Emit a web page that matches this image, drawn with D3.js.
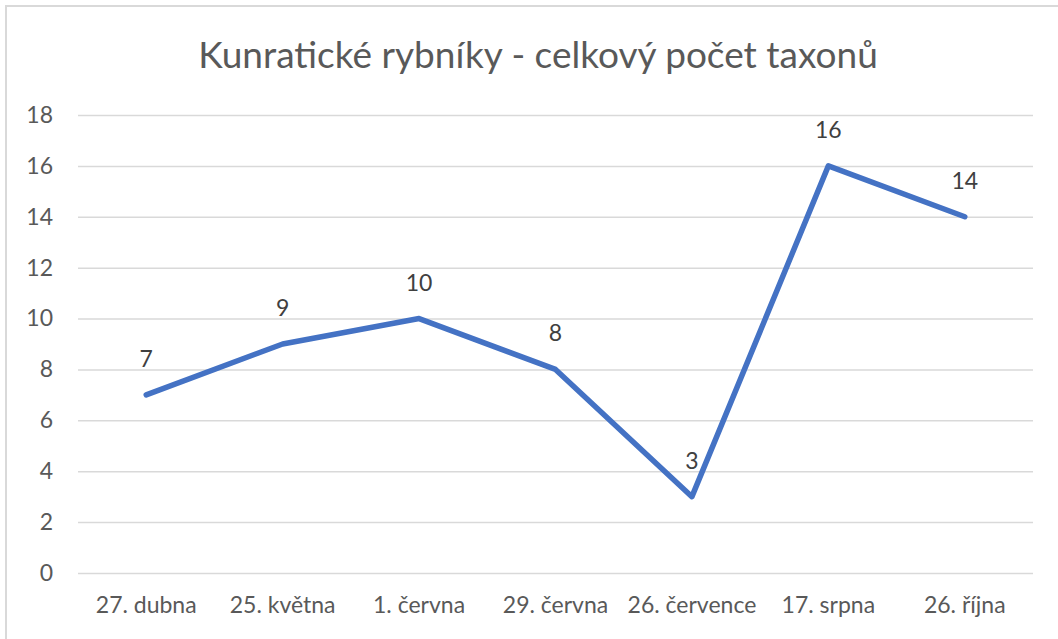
<!DOCTYPE html>
<html>
<head>
<meta charset="utf-8">
<script src="https://cdn.jsdelivr.net/npm/d3@7"></script>
<style>
  body { margin: 0; background: #fff; }
  text { font-family: Lato, "Open Sans", sans-serif; }
</style>
</head>
<body>
<div id="chart-container"></div>
<script>
// Data
var categories = ["27. dubna", "25. května", "1. června", "29. června", "26. července", "17. srpna", "26. října"];
var taxonCounts = [7, 9, 10, 8, 3, 16, 14];
var yTicks = [0, 2, 4, 6, 8, 10, 12, 14, 16, 18];
var chartTitle = "Kunratické rybníky - celkový počet taxonů";

var W = 1058, H = 639;
var margin = { top: 115, right: 25, bottom: 66, left: 78 },
    width = W - margin.left - margin.right,
    height = H - margin.top - margin.bottom;

var svg = d3.select("#chart-container")
    .append("svg")
    .attr("width", W)
    .attr("height", H);

// Outer chart border
svg.append("rect")
    .attr("x", 6).attr("y", 6)
    .attr("width", W + 10).attr("height", H + 10)
    .attr("fill", "#fff")
    .attr("stroke", "#d9d9d9")
    .attr("stroke-width", 2);

// Title
svg.append("text")
    .attr("x", 538)
    .attr("y", 68)
    .attr("text-anchor", "middle")
    .attr("font-size", 37)
    .attr("fill", "#595959")
    .text(chartTitle);

var g = svg.append("g")
    .attr("transform", "translate(" + margin.left + "," + margin.top + ")");

var x = d3.scaleBand()
    .domain(categories)
    .range([0, width]);

var y = d3.scaleLinear()
    .domain([0, 18])
    .range([height, 0]);

// Gridlines + y labels
var yAxis = g.append("g")
    .call(d3.axisLeft(y).tickValues(yTicks).tickSize(-width).tickPadding(25));
yAxis.select(".domain").remove();
yAxis.selectAll(".tick line")
    .attr("stroke", "#d9d9d9")
    .attr("stroke-width", 1.5);
yAxis.selectAll(".tick text")
    .attr("font-size", 23)
    .attr("fill", "#595959")
    .attr("font-family", "Lato, sans-serif");

// X axis labels
var xAxis = g.append("g")
    .attr("transform", "translate(0," + height + ")")
    .call(d3.axisBottom(x).tickSize(0).tickPadding(24));
xAxis.select(".domain").remove();
xAxis.selectAll(".tick text")
    .attr("font-size", 23)
    .attr("fill", "#595959")
    .attr("font-family", "Lato, sans-serif");

// Line
var line = d3.line()
    .x(function (d, i) { return x(categories[i]) + x.bandwidth() / 2; })
    .y(function (d) { return y(d); });

g.append("path")
    .datum(taxonCounts)
    .attr("fill", "none")
    .attr("stroke", "#4472c4")
    .attr("stroke-width", 5.5)
    .attr("stroke-linejoin", "round")
    .attr("stroke-linecap", "round")
    .attr("d", line);

// Data labels
g.selectAll(".label")
    .data(taxonCounts)
    .enter().append("text")
    .attr("class", "label")
    .attr("x", function (d, i) { return x(categories[i]) + x.bandwidth() / 2; })
    .attr("y", function (d) { return y(d) - 28; })
    .attr("text-anchor", "middle")
    .attr("font-size", 23)
    .attr("fill", "#404040")
    .text(function (d) { return d; });
</script>
</body>
</html>
